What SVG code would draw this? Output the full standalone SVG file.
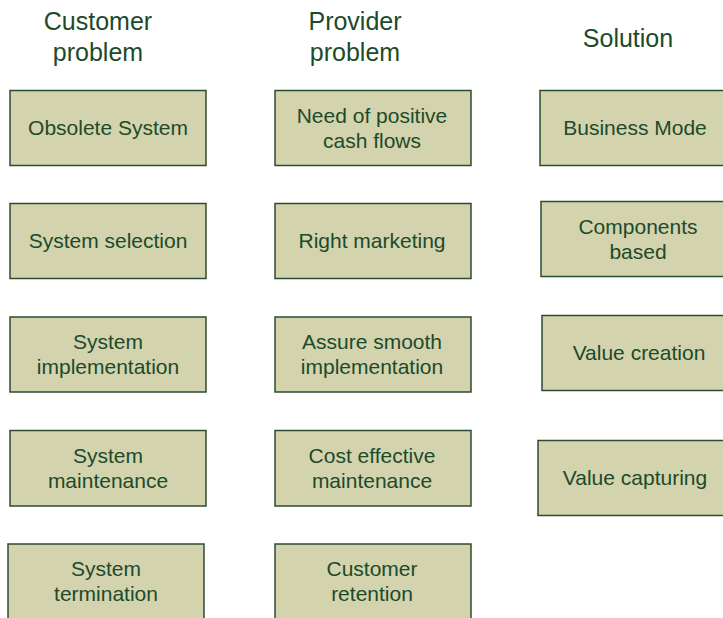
<svg xmlns="http://www.w3.org/2000/svg" width="723" height="618" viewBox="0 0 723 618">
  <style>
    .box { fill: #d3d3ad; stroke: #2c4c32; stroke-width: 1.5; }
    .hdr { font-family: "Liberation Sans", Arial, sans-serif; font-size: 25px; fill: #1d4a2b; text-anchor: middle; }
    .lbl { font-family: "Liberation Sans", Arial, sans-serif; font-size: 21px; fill: #1d4a2b; text-anchor: middle; }
  </style>
  <defs>
    <!-- each column's text frame cuts the last glyph on long labels -->
    <clipPath id="c1"><rect x="0" y="0" width="189" height="618"/></clipPath>
    <clipPath id="c2"><rect x="260" y="0" width="188" height="618"/></clipPath>
    <clipPath id="c3"><rect x="520" y="0" width="189" height="618"/></clipPath>
  </defs>
  <rect width="723" height="618" fill="#ffffff"/>

  <!-- column headings -->
  <g id="headings">
    <text class="hdr" x="98" y="30">Customer</text>
    <text class="hdr" x="98" y="61">problem</text>
    <text class="hdr" x="355" y="30">Provider</text>
    <text class="hdr" x="355" y="61">problem</text>
    <text class="hdr" x="628" y="47">Solution</text>
  </g>

  <!-- customer problem column -->
  <g id="obsolete-system">
    <rect class="box" x="10" y="90.5" width="196" height="75"/>
    <text class="lbl" x="108" y="134.5" clip-path="url(#c1)">Obsolete System</text>
  </g>
  <g id="system-selection">
    <rect class="box" x="10" y="203.5" width="196" height="75"/>
    <text class="lbl" x="108" y="248" clip-path="url(#c1)">System selection</text>
  </g>
  <g id="system-implementation">
    <rect class="box" x="10" y="317" width="196" height="75"/>
    <text class="lbl" x="108" y="349" clip-path="url(#c1)">System</text>
    <text class="lbl" x="108" y="374" clip-path="url(#c1)">implementation</text>
  </g>
  <g id="system-maintenance">
    <rect class="box" x="10" y="430.5" width="196" height="75.5"/>
    <text class="lbl" x="108" y="462.5" clip-path="url(#c1)">System</text>
    <text class="lbl" x="108" y="487.5" clip-path="url(#c1)">maintenance</text>
  </g>
  <g id="system-termination">
    <rect class="box" x="8" y="544" width="196" height="80"/>
    <text class="lbl" x="106" y="576" clip-path="url(#c1)">System</text>
    <text class="lbl" x="106" y="601" clip-path="url(#c1)">termination</text>
  </g>

  <!-- provider problem column -->
  <g id="positive-cash-flows">
    <rect class="box" x="275" y="90.5" width="196" height="75"/>
    <text class="lbl" x="372" y="122.5" clip-path="url(#c2)">Need of positive</text>
    <text class="lbl" x="372" y="147.5" clip-path="url(#c2)">cash flows</text>
  </g>
  <g id="right-marketing">
    <rect class="box" x="275" y="203.5" width="196" height="75"/>
    <text class="lbl" x="372" y="248" clip-path="url(#c2)">Right marketing</text>
  </g>
  <g id="smooth-implementation">
    <rect class="box" x="275" y="317" width="196" height="75"/>
    <text class="lbl" x="372" y="349" clip-path="url(#c2)">Assure smooth</text>
    <text class="lbl" x="372" y="374" clip-path="url(#c2)">implementation</text>
  </g>
  <g id="cost-effective-maintenance">
    <rect class="box" x="275" y="430.5" width="196" height="75.5"/>
    <text class="lbl" x="372" y="462.5" clip-path="url(#c2)">Cost effective</text>
    <text class="lbl" x="372" y="487.5" clip-path="url(#c2)">maintenance</text>
  </g>
  <g id="customer-retention">
    <rect class="box" x="275" y="544" width="196" height="80"/>
    <text class="lbl" x="372" y="576" clip-path="url(#c2)">Customer</text>
    <text class="lbl" x="372" y="601" clip-path="url(#c2)">retention</text>
  </g>

  <!-- solution column -->
  <g id="business-mode">
    <rect class="box" x="540" y="90.5" width="196" height="75"/>
    <text class="lbl" x="635" y="134.5" clip-path="url(#c3)">Business Mode</text>
  </g>
  <g id="components-based">
    <rect class="box" x="541" y="201.5" width="196" height="75"/>
    <text class="lbl" x="638" y="233.5" clip-path="url(#c3)">Components</text>
    <text class="lbl" x="638" y="258.5" clip-path="url(#c3)">based</text>
  </g>
  <g id="value-creation">
    <rect class="box" x="542" y="315.5" width="196" height="75"/>
    <text class="lbl" x="639" y="359.5" clip-path="url(#c3)">Value creation</text>
  </g>
  <g id="value-capturing">
    <rect class="box" x="538" y="440.5" width="196" height="75"/>
    <text class="lbl" x="635" y="484.5" clip-path="url(#c3)">Value capturing</text>
  </g>

  <g id="connectors"/>
</svg>
